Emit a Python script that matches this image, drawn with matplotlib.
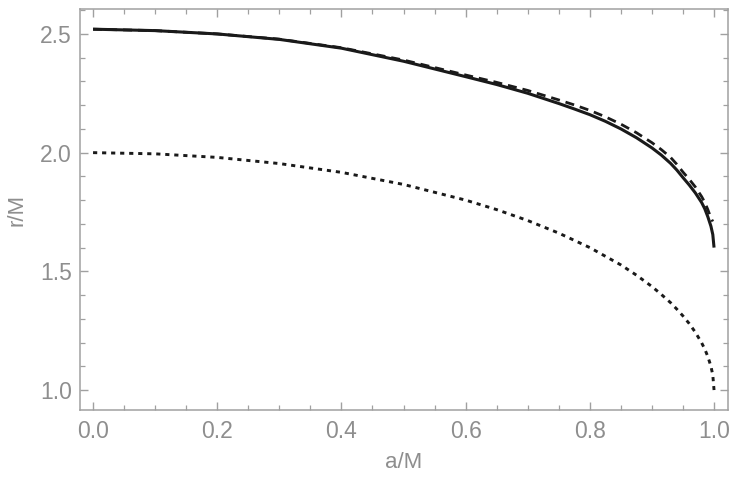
import numpy as np
import matplotlib
matplotlib.use("Agg")
from matplotlib import pyplot as plt
from matplotlib.ticker import MultipleLocator, FormatStrFormatter

# values
a_solid = [0.0, 0.1, 0.2, 0.3, 0.4, 0.5, 0.6, 0.65, 0.7, 0.75, 0.775, 0.8, 0.825, 0.85, 0.875,
           0.9, 0.915, 0.93, 0.94, 0.95, 0.96, 0.97, 0.98, 0.985, 0.99, 0.995, 0.998, 1.0]
r_solid = [2.52, 2.514, 2.50, 2.477, 2.44, 2.385, 2.32, 2.287, 2.25, 2.207, 2.184, 2.16, 2.132, 2.10, 2.063,
           2.02, 1.99, 1.955, 1.927, 1.895, 1.864, 1.83, 1.79, 1.764, 1.73, 1.69, 1.655, 1.60]

a_dashed = [0.0, 0.1, 0.2, 0.3, 0.4, 0.5, 0.6, 0.65, 0.7, 0.75, 0.775, 0.8, 0.825, 0.85, 0.875,
            0.9, 0.915, 0.93, 0.94, 0.95, 0.96, 0.97, 0.98, 0.985, 0.99, 0.995, 0.998]
r_dashed = [2.52, 2.514, 2.50, 2.478, 2.442, 2.39, 2.327, 2.296, 2.262, 2.222, 2.201, 2.178, 2.151, 2.12, 2.084,
            2.042, 2.013, 1.98, 1.951, 1.918, 1.888, 1.855, 1.815, 1.791, 1.76, 1.725, 1.71]

a_dotted = [0.0, 0.1, 0.2, 0.3, 0.4, 0.5, 0.6, 0.65, 0.7, 0.75, 0.8, 0.85, 0.875, 0.9, 0.915,
            0.93, 0.94, 0.95, 0.96, 0.97, 0.98, 0.985, 0.99, 0.995, 0.998, 1.0]
r_dotted = [2.0, 1.995, 1.98, 1.954, 1.917, 1.866, 1.80, 1.76, 1.714, 1.661, 1.60, 1.527, 1.484, 1.436, 1.403,
            1.368, 1.341, 1.312, 1.28, 1.243, 1.199, 1.173, 1.141, 1.10, 1.063, 1.0]

plt.rcParams['font.family'] = ['Liberation Sans', 'DejaVu Sans']
plt.rcParams['lines.scale_dashes'] = False

gray = '#a0a0a0'
label_gray = '#8e8e8e'

fig = plt.figure(figsize=(7.45, 4.82), dpi=100)
ax = fig.add_axes([0.1074, 0.1494, 0.8698, 0.8319])

ax.plot(a_solid, r_solid, color='#1a1a1a', lw=2.2, solid_capstyle='butt', solid_joinstyle='round')
ax.plot(a_dashed, r_dashed, color='#1a1a1a', lw=2.0, linestyle=(0, (6.5, 4.3)))
ax.plot(a_dotted, r_dotted, color='#1a1a1a', lw=2.1, linestyle=(0, (3.0, 3.5)))

ax.set_xlim(-0.021, 1.0225)
ax.set_ylim(0.916, 2.605)

ax.xaxis.set_major_locator(MultipleLocator(0.2))
ax.xaxis.set_minor_locator(MultipleLocator(0.05))
ax.yaxis.set_major_locator(MultipleLocator(0.5))
ax.yaxis.set_minor_locator(MultipleLocator(0.1))
ax.xaxis.set_major_formatter(FormatStrFormatter('%.1f'))
ax.yaxis.set_major_formatter(FormatStrFormatter('%.1f'))

ax.tick_params(which='both', direction='in', top=True, right=True, color=gray,
               labelcolor=label_gray, labelsize=16.5)
ax.tick_params(which='major', length=6, width=1.0)
ax.tick_params(which='minor', length=3.5, width=0.9)
ax.tick_params(axis='x', pad=7)
ax.tick_params(axis='y', pad=6)

for s in ax.spines.values():
    s.set_color(gray)
    s.set_linewidth(1.1)

ax.set_xlabel('a/M', color=label_gray, fontsize=16, labelpad=7)
ax.set_ylabel('r/M', color=label_gray, fontsize=16, labelpad=9)

fig.savefig('out.png', dpi=100)
